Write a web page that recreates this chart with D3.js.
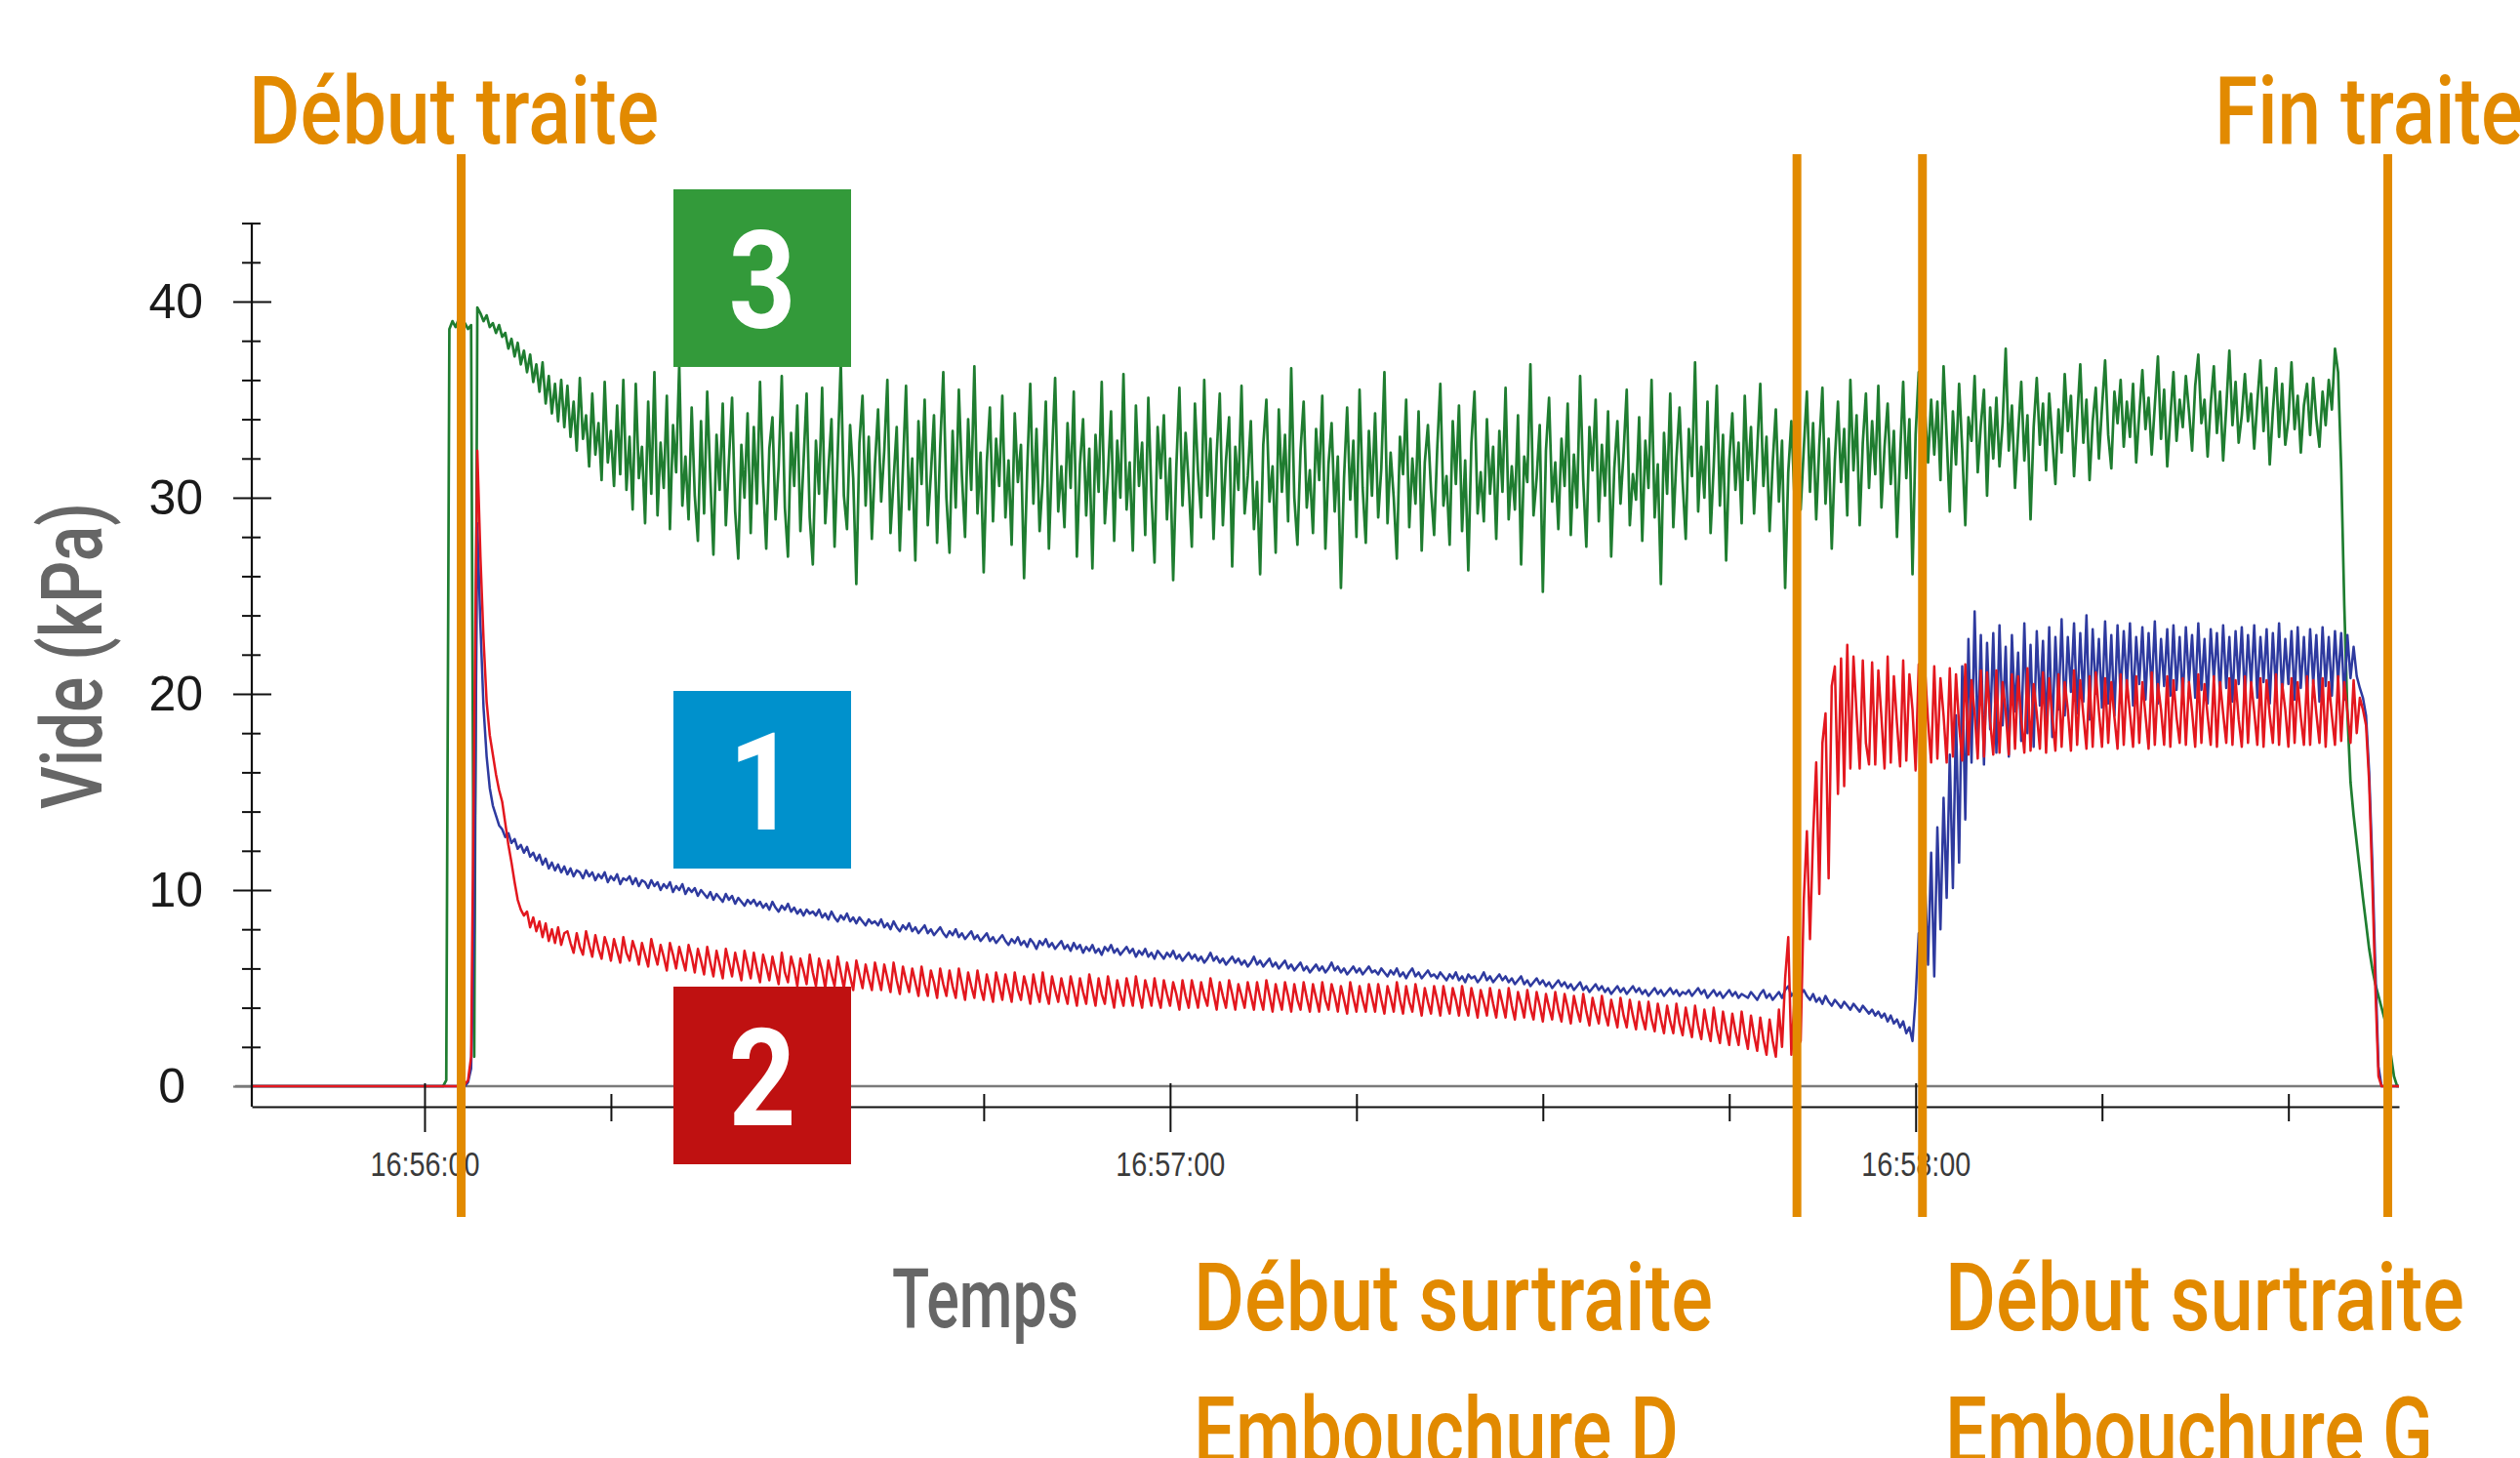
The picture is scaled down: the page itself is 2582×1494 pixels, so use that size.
<!DOCTYPE html>
<html><head><meta charset="utf-8">
<script src="https://cdn.jsdelivr.net/npm/d3@7"></script>
<style>html,body{margin:0;padding:0;background:#fff;}svg{display:block;}</style>
</head><body>
<svg id="chart" width="2582" height="1494"></svg>
<script>
// ---------- DATA ----------
// time in seconds after 16:56:00
const axisStartSec = -13.9, axisEndSec = 158.9;
const sampleStart = 1.5, sampleStep = 0.25;
const baselineValue = 0;
const yMajorTicks = [0, 10, 20, 30, 40];
const yMinorTicks = [2, 4, 6, 8, 12, 14, 16, 18, 22, 24, 26, 28, 32, 34, 36, 38, 42, 44];
const xTickLabels = ["16:56:00", "16:57:00", "16:58:00"];
const markerSeconds = [2.95, 110.45, 120.55, 158.0];
const annotationLabels = ["Début traite", "Fin traite", "Début surtraite", "Embouchure D", "Début surtraite", "Embouchure G"];
const axisTitles = ["Vide (kPa)", "Temps"];
const boxLabels = ["3", "1", "2"];

// Series 3 (green) — vide
const greenValues = [
0,0.3,38.6,39.0,38.7,39.1,38.8,38.9,38.6,38.8,1.5,39.7,39.4,39.0,39.3,38.7,38.9,38.4,38.8,38.2,
38.4,37.6,38.1,37.2,37.9,36.8,37.5,36.4,37.3,35.9,36.8,35.4,36.9,34.8,36.2,34.3,35.8,33.9,36.0,33.6,
35.7,33.1,34.9,32.4,36.1,33.0,34.2,31.6,35.3,32.2,33.8,30.9,35.9,31.8,33.4,30.6,34.7,31.2,36.0,30.4,
33.1,29.4,35.8,31.0,32.6,28.7,34.9,30.2,36.4,29.1,32.8,30.5,35.2,28.4,33.7,31.3,36.8,29.6,32.1,28.9,
34.6,30.1,27.8,33.9,29.2,35.4,31.0,27.1,33.2,30.4,34.8,28.6,31.9,35.1,29.3,26.9,32.7,30.0,34.3,28.2,
33.6,29.7,35.9,30.8,27.4,32.5,34.1,28.9,31.6,36.2,29.5,27.0,33.3,30.6,34.7,28.3,31.8,35.3,29.0,26.6,
32.9,30.2,35.6,28.7,31.4,34.0,27.5,32.2,36.9,30.1,28.4,33.7,31.0,25.6,32.8,35.2,29.6,33.1,27.9,31.7,
34.5,29.8,32.4,36.0,28.2,30.9,33.6,27.3,31.5,35.7,29.4,32.0,26.8,33.9,30.7,35.0,28.6,31.2,34.2,27.7,
32.6,36.4,30.0,27.2,33.4,29.5,35.5,31.1,28.0,34.0,30.4,36.7,29.2,32.3,26.2,31.8,34.6,28.8,33.0,30.6,
35.2,29.0,31.9,27.6,34.3,30.8,32.7,25.9,31.4,35.8,29.7,33.5,28.3,30.9,34.9,27.4,32.1,36.1,29.3,31.6,
28.5,33.8,30.5,35.4,27.0,31.7,34.0,29.1,32.5,26.4,33.2,30.3,35.9,28.7,31.2,34.4,27.8,32.9,30.0,36.3,
29.4,31.8,27.3,34.7,30.6,32.8,28.1,35.1,30.2,26.7,33.6,31.0,34.2,28.9,32.0,25.8,31.5,35.6,29.6,33.3,
30.7,27.5,34.8,31.3,29.0,36.0,30.1,33.0,27.9,32.2,35.3,28.6,31.9,34.1,26.5,32.6,30.4,35.7,29.2,31.1,
33.9,28.4,30.8,26.1,32.7,35.0,29.8,31.6,27.2,34.5,30.3,33.2,28.8,36.6,30.0,27.6,32.4,34.9,29.5,31.4,
28.2,33.5,30.9,35.2,27.4,31.7,33.8,29.3,32.1,25.4,31.0,34.6,29.9,32.9,28.0,35.5,30.5,27.7,33.4,30.1,
34.3,29.0,31.5,36.4,28.7,32.3,30.0,26.9,33.1,31.2,35.0,28.5,32.0,29.7,34.4,27.3,31.8,33.7,30.4,28.1,
32.5,35.8,29.6,31.1,27.6,33.9,30.7,34.7,28.3,31.9,26.3,32.8,35.4,29.2,31.3,28.8,34.0,30.2,32.6,27.9,
33.4,30.3,35.6,28.9,31.6,29.4,34.2,26.6,32.1,30.8,36.8,29.1,31.0,33.7,25.2,32.4,35.1,29.8,31.8,28.4,
33.0,30.6,34.8,28.1,32.2,29.5,36.2,30.9,27.5,33.6,31.4,35.0,28.8,32.7,30.1,34.4,27.0,31.5,33.9,29.7,
32.3,35.5,28.6,31.2,29.9,34.1,27.8,32.9,30.5,36.0,29.0,31.7,25.6,33.3,30.2,35.3,28.5,32.0,34.6,30.8,
27.9,33.5,31.1,36.9,29.3,32.6,30.0,34.9,28.2,31.6,35.7,29.6,33.2,26.8,31.9,34.3,30.4,32.8,28.7,35.2,
30.9,33.6,29.2,32.4,35.8,30.6,33.1,28.3,31.8,34.5,29.8,32.9,25.4,31.3,33.9,30.0,34.7,29.4,32.5,35.4,
30.3,33.8,28.9,32.7,35.6,29.7,33.0,27.4,31.9,34.9,30.8,33.5,29.1,36.0,31.4,34.2,28.6,32.8,35.3,30.5,
33.9,31.2,35.7,29.5,32.6,34.8,30.7,33.4,28.0,32.1,35.9,31.0,34.0,26.1,33.2,36.4,30.4,34.5,31.8,35.0,
32.2,34.9,30.9,36.7,33.1,29.3,34.4,31.7,35.8,32.5,28.6,34.1,32.9,36.2,31.3,33.7,35.5,30.1,34.6,32.0,
35.1,31.6,33.8,37.6,32.4,34.7,30.5,33.3,35.9,31.9,34.2,28.9,33.6,36.1,32.7,34.8,31.4,35.3,33.0,30.7,
34.5,32.3,36.3,33.4,35.2,31.1,34.0,36.8,32.8,35.0,30.9,33.9,35.6,32.0,34.6,37.0,33.2,31.5,35.4,33.8,
36.0,32.6,34.9,33.1,35.8,31.8,34.3,36.5,33.5,35.1,32.2,34.7,37.2,33.0,35.5,31.6,34.1,36.4,32.9,35.0,
33.6,36.2,34.4,32.4,35.7,37.3,33.8,35.0,32.1,34.8,36.7,33.3,35.4,31.9,34.6,37.5,33.7,35.9,32.8,34.2,
36.3,33.9,35.3,32.5,34.9,37.0,33.4,35.6,31.7,34.4,36.6,33.1,35.8,32.7,34.0,36.9,33.5,35.2,32.3,34.7,
35.8,33.2,36.1,34.0,32.6,35.4,33.7,36.0,34.5,37.6,36.4,31.5,24.5,19.0,15.5,13.8,12.4,11.0,9.6,8.3,
7.0,6.0,5.2,4.6,4.0,3.4,2.6,1.6,0.5,0
];

// Series 1 (blue)
const blueValues = [
0,0,0,0,0,0,0,0,0.2,0.9,8.0,28.7,23.5,19.3,16.8,15.2,14.3,13.8,13.3,13.1,
12.7,12.9,12.4,12.6,12.1,12.3,11.9,12.2,11.7,11.9,11.5,11.8,11.3,11.6,11.1,11.4,11.0,11.3,10.9,11.2,
10.8,11.1,10.7,11.0,10.9,10.6,11.0,10.7,10.9,10.5,10.8,10.6,10.9,10.4,10.7,10.5,10.8,10.3,10.6,10.5,
10.7,10.3,10.6,10.2,10.5,10.4,10.1,10.5,10.2,10.4,10.0,10.3,10.1,10.4,9.9,10.2,10.0,10.3,9.8,10.1,
9.9,10.1,9.7,10.0,9.8,9.6,9.9,9.5,9.8,9.6,9.4,9.8,9.5,9.7,9.3,9.6,9.4,9.2,9.5,9.3,
9.5,9.2,9.4,9.1,9.3,9.0,9.4,9.1,8.9,9.2,9.0,9.3,8.9,9.1,8.8,9.0,8.7,9.0,8.8,8.9,
8.7,9.0,8.6,8.8,8.5,8.9,8.6,8.4,8.7,8.5,8.8,8.4,8.6,8.3,8.6,8.4,8.2,8.5,8.3,8.4,
8.2,8.5,8.1,8.3,8.0,8.4,8.1,7.9,8.2,8.0,8.3,7.9,8.1,7.8,8.0,8.2,7.8,8.0,7.7,7.9,
8.1,7.8,7.6,7.9,7.7,8.0,7.6,7.8,7.5,7.7,7.9,7.5,7.7,7.4,7.6,7.8,7.4,7.6,7.3,7.5,
7.7,7.4,7.2,7.5,7.3,7.6,7.2,7.4,7.1,7.5,7.3,7.0,7.4,7.2,7.5,7.1,7.3,7.0,7.2,7.4,
7.0,7.2,6.9,7.3,7.0,7.2,6.8,7.1,6.9,7.2,6.8,7.0,6.7,7.1,6.9,7.2,6.8,7.0,6.7,6.9,
7.1,6.8,7.0,6.6,6.9,6.7,7.0,6.6,6.8,6.5,6.9,6.7,6.5,6.8,6.6,6.9,6.5,6.7,6.4,6.6,
6.8,6.5,6.7,6.4,6.6,6.3,6.5,6.8,6.4,6.6,6.3,6.5,6.2,6.4,6.6,6.3,6.5,6.2,6.4,6.1,
6.3,6.6,6.2,6.4,6.1,6.3,6.5,6.1,6.3,6.0,6.2,6.4,6.0,6.2,5.9,6.1,6.3,5.9,6.1,5.8,
6.0,6.2,5.9,6.1,5.8,6.0,6.3,5.9,6.1,5.8,6.0,5.7,5.9,6.1,5.8,6.0,5.7,5.9,6.1,5.8,
5.9,5.7,6.0,5.8,5.6,5.9,5.7,6.0,5.6,5.8,5.5,5.8,6.0,5.6,5.8,5.5,5.7,5.9,5.6,5.7,
5.5,5.8,5.6,5.4,5.7,5.5,5.8,5.4,5.6,5.3,5.7,5.5,5.6,5.3,5.5,5.8,5.4,5.6,5.3,5.5,
5.7,5.4,5.6,5.3,5.5,5.2,5.4,5.6,5.2,5.4,5.1,5.3,5.5,5.2,5.4,5.1,5.3,5.0,5.2,5.4,
5.1,5.3,5.0,5.2,4.9,5.1,5.3,4.9,5.1,4.8,5.0,5.2,4.9,5.1,4.8,5.0,4.7,4.9,5.1,4.8,
5.0,4.7,4.9,5.1,4.8,5.0,4.7,4.9,4.6,4.8,5.0,4.7,4.9,4.6,4.8,5.0,4.7,4.9,4.6,4.8,
4.7,4.9,4.6,4.8,5.0,4.7,4.9,4.5,4.7,4.9,4.6,4.8,4.5,4.7,4.9,4.6,4.8,4.5,4.7,4.6,
4.5,4.8,4.6,4.4,4.7,4.9,4.5,4.7,4.4,4.6,4.8,4.5,4.9,5.1,4.6,4.8,5.0,4.7,4.9,4.6,
4.4,4.7,4.3,4.5,4.2,4.6,4.3,4.1,4.4,4.2,4.0,4.3,4.1,3.9,4.2,4.0,3.8,4.1,3.9,3.7,
3.9,3.6,3.8,3.5,3.7,3.3,3.6,3.2,3.4,3.0,3.3,2.7,3.0,2.3,4.5,7.8,5.0,10.5,6.2,11.9,
5.6,13.2,8.0,14.7,9.6,16.9,10.1,18.9,11.4,21.4,13.6,22.8,16.5,24.2,17.5,23.0,16.4,22.6,18.2,23.1,
17.0,23.5,18.4,22.4,16.8,23.0,19.1,22.1,17.6,23.6,18.0,22.5,17.3,23.2,19.4,22.7,18.1,23.4,17.8,22.9,
19.2,23.8,18.9,22.9,20.1,23.6,19.0,23.1,19.6,24.0,18.7,23.3,20.0,22.8,19.3,23.7,19.5,23.0,18.9,23.5,
19.8,23.2,20.3,23.6,19.4,22.9,20.5,23.4,19.7,23.1,20.1,23.7,19.5,22.8,20.4,23.3,19.9,23.5,20.2,22.9,
19.6,23.4,20.6,23.0,19.8,23.6,20.2,22.8,19.5,23.3,20.7,23.1,19.9,23.5,20.3,22.9,19.6,23.2,20.5,23.4,
19.7,23.0,20.4,23.5,19.8,22.9,20.6,23.3,19.5,23.1,20.2,23.6,19.9,22.8,20.5,23.2,19.7,23.4,20.3,22.9,
19.8,23.3,20.5,23.0,19.6,23.4,20.4,22.9,19.9,23.2,20.6,23.1,19.7,23.0,20.8,22.4,20.9,20.3,19.8,18.9,
16.0,11.5,6.0,1.0,0,0,0,0,0,0
];

// Series 2 (red)
const redValues = [
0,0,0,0,0,0,0,0.1,0.3,1.5,18.0,32.4,27.0,22.8,19.6,17.9,16.9,15.9,15.1,14.5,
13.4,12.3,11.4,10.4,9.5,9.0,8.7,8.9,8.1,8.6,7.9,8.4,7.6,8.3,7.4,8.0,7.3,8.1,7.2,7.8,
7.9,7.3,6.8,7.8,7.1,6.7,7.9,7.2,6.6,7.7,7.0,6.5,7.6,7.1,6.4,7.5,6.9,6.3,7.6,6.8,
6.4,7.4,6.9,6.2,7.3,6.7,6.1,7.5,6.8,6.2,7.2,6.6,5.9,7.3,6.7,6.0,7.1,6.5,5.9,7.2,
6.6,5.8,7.0,6.4,5.7,7.1,6.3,5.6,6.9,6.2,5.5,7.0,6.3,5.6,6.8,6.1,5.4,6.9,6.2,5.5,
6.8,6.0,5.3,6.7,6.1,5.4,6.6,5.9,5.2,6.8,5.8,5.3,6.6,6.0,5.1,6.5,5.9,5.2,6.7,5.8,
5.1,6.5,5.9,5.0,6.4,5.7,5.1,6.6,5.8,5.0,6.3,5.6,4.9,6.4,5.7,5.0,6.2,5.5,4.9,6.3,
5.6,4.9,6.2,5.5,4.8,6.3,5.4,4.7,6.1,5.4,4.8,6.0,5.3,4.6,6.1,5.2,4.6,5.9,5.3,4.5,
6.0,5.2,4.6,5.9,5.1,4.5,6.0,5.2,4.4,5.8,5.1,4.5,5.9,5.0,4.4,5.7,5.0,4.3,5.8,5.1,
4.4,5.7,5.0,4.3,5.8,4.9,4.4,5.6,5.0,4.2,5.7,4.9,4.3,5.8,4.8,4.2,5.6,4.9,4.3,5.5,
4.8,4.2,5.6,4.9,4.1,5.5,4.8,4.2,5.7,4.9,4.1,5.5,4.7,4.2,5.6,4.8,4.0,5.4,4.7,4.1,
5.5,4.8,4.1,5.6,4.7,4.0,5.4,4.8,4.1,5.5,4.6,4.0,5.4,4.7,4.1,5.3,4.7,3.9,5.4,4.6,
4.0,5.4,4.7,4.0,5.3,4.6,4.1,5.5,4.7,3.9,5.3,4.6,4.0,5.4,4.7,3.9,5.2,4.6,4.0,5.3,
4.6,3.9,5.3,4.5,3.9,5.4,4.6,3.8,5.2,4.5,3.9,5.3,4.6,3.8,5.2,4.4,3.9,5.3,4.5,3.8,
5.2,4.5,3.8,5.3,4.4,3.9,5.2,4.6,3.8,5.1,4.4,3.7,5.3,4.5,3.8,5.1,4.4,3.8,5.2,4.5,
3.8,5.2,4.4,3.7,5.1,4.5,3.8,5.3,4.4,3.7,5.1,4.3,3.8,5.2,4.4,3.6,5.0,4.3,3.7,5.1,
4.4,3.6,5.1,4.3,3.7,5.0,4.4,3.6,5.1,4.2,3.6,5.0,4.3,3.5,4.9,4.3,3.6,5.0,4.2,3.5,
4.9,4.2,3.5,5.0,4.1,3.4,4.8,4.2,3.5,4.9,4.0,3.4,4.8,4.1,3.3,4.7,4.0,3.4,4.8,3.9,
3.3,4.7,4.0,3.2,4.6,3.9,3.3,4.7,3.8,3.1,4.5,3.8,3.2,4.6,3.7,3.1,4.4,3.7,3.0,4.5,
3.6,3.0,4.4,3.6,2.9,4.3,3.5,2.9,4.3,3.4,2.8,4.2,3.4,2.7,4.1,3.3,2.7,4.2,3.2,2.6,
4.0,3.2,2.5,4.1,3.1,2.4,3.9,3.0,2.3,4.0,2.9,2.2,3.8,2.9,2.1,3.7,2.8,2.1,3.8,2.7,
1.9,3.6,2.6,1.8,3.5,2.4,1.6,3.4,2.3,1.5,3.9,2.0,5.5,7.6,1.6,4.5,2.0,2.3,9.5,13.0,
7.5,12.8,16.5,9.8,17.5,19.0,10.6,20.4,21.4,14.9,21.8,15.3,22.5,16.2,21.9,19.0,16.2,21.7,17.5,16.4,
21.6,16.4,21.2,18.8,16.2,21.9,16.5,20.9,18.5,16.3,21.7,16.6,21.0,19.2,16.1,21.5,16.4,21.3,18.6,16.5,
21.4,16.7,20.8,18.9,16.5,21.3,16.8,21.0,18.4,16.6,21.5,16.9,20.7,19.0,16.7,21.2,16.8,21.1,18.6,16.9,
21.2,17.0,20.6,19.1,16.9,21.0,17.2,20.9,18.7,17.0,21.3,17.1,20.5,19.0,17.2,21.1,17.0,20.8,18.8,17.1,
21.0,17.3,20.6,19.2,17.1,21.2,17.4,20.7,18.9,17.2,20.9,17.3,21.1,19.1,17.3,20.8,17.5,20.6,18.8,17.2,
21.0,17.4,20.7,19.0,17.3,20.9,17.5,20.6,18.9,17.2,21.1,17.4,20.5,19.2,17.4,20.9,17.3,20.7,18.8,17.5,
20.8,17.4,20.6,19.1,17.3,21.0,17.5,20.5,18.9,17.4,20.9,17.3,20.6,19.0,17.5,20.8,17.4,20.7,18.7,17.3,
20.9,17.5,20.6,19.1,17.4,20.8,17.3,20.7,18.9,17.5,21.0,17.4,20.5,19.2,17.3,20.8,17.5,20.6,18.8,17.4,
20.9,17.4,20.7,19.0,17.5,20.8,17.3,20.6,18.9,17.4,20.9,17.6,20.6,19.1,17.5,20.7,18.0,19.8,19.2,18.4,
15.5,10.5,5.0,0.5,0,0,0,0,0,0
];

// ---------- DRAWING ----------
const ORANGE = "#E28A00";
const GRAY_TXT = "#666666";
const svg = d3.select("#chart");
const base = new Date(2000, 0, 1, 16, 56, 0);
const toDate = s => new Date(base.getTime() + s * 1000);

const x = d3.scaleTime().domain([toDate(axisStartSec), toDate(axisEndSec)]).range([258, 2458]);
const y = d3.scaleLinear().domain([0, 44]).range([1113, 228.6]);
const X_AXIS_Y = 1134;

// zero line
svg.append("line").attr("x1", 241).attr("x2", x.range()[1])
  .attr("y1", y(baselineValue)).attr("y2", y(baselineValue))
  .attr("stroke", "#7a7a7a").attr("stroke-width", 2.5);

// series
function seriesPoints(vals) {
  return [[axisStartSec, baselineValue]]
    .concat(vals.map((v, i) => [sampleStart + i * sampleStep, v]))
    .concat([[axisEndSec, baselineValue]]);
}
const line = d3.line().x(d => x(toDate(d[0]))).y(d => y(d[1]));
const seriesList = [
  { vals: greenValues, color: "#1F7D30", w: 2.7 },
  { vals: blueValues, color: "#2E3A9F", w: 2.5 },
  { vals: redValues, color: "#E3171E", w: 2.5 }
];
svg.append("g").selectAll("path").data(seriesList).join("path")
  .attr("d", d => line(seriesPoints(d.vals)))
  .attr("fill", "none").attr("stroke", d => d.color)
  .attr("stroke-width", d => d.w).attr("stroke-linejoin", "round");

// X axis
const fmt = d3.timeFormat("%H:%M:%S");
const xAxis = d3.axisBottom(x).ticks(d3.timeSecond.every(15)).tickSizeOuter(0)
  .tickFormat(d => {
    const s = fmt(d);
    return xTickLabels.includes(s) ? s : "";
  });
const gx = svg.append("g").attr("transform", `translate(0,${X_AXIS_Y})`).call(xAxis);
gx.select(".domain").attr("stroke", "#111").attr("stroke-width", 2.2);
gx.selectAll(".tick line").attr("stroke", "#111").attr("stroke-width", 2)
  .each(function (d) {
    const major = d.getSeconds() === 0;
    d3.select(this).attr("y1", major ? -24 : -13).attr("y2", major ? 26 : 15);
  });
gx.selectAll(".tick text")
  .attr("y", 71).attr("dy", 0)
  .attr("font-family", "'Liberation Sans', Arial, sans-serif")
  .attr("font-size", 35).attr("fill", "#3a3a3a")
  .each(function () {
    const t = d3.select(this);
    if (t.text()) t.attr("textLength", 112).attr("lengthAdjust", "spacingAndGlyphs");
  });

// Y axis
const gyMinor = svg.append("g").attr("transform", "translate(258,0)")
  .call(d3.axisLeft(y).tickValues(yMinorTicks).tickFormat("").tickSize(10).tickSizeOuter(0));
gyMinor.select(".domain").remove();
gyMinor.selectAll(".tick line").attr("x1", 9).attr("stroke", "#111").attr("stroke-width", 2);

const gyMajor = svg.append("g").attr("transform", "translate(258,0)")
  .call(d3.axisLeft(y).tickValues(yMajorTicks).tickFormat(d3.format("d")).tickSize(19).tickPadding(31).tickSizeOuter(0));
gyMajor.select(".domain").remove();
gyMajor.selectAll(".tick line").attr("x1", d => d === 0 ? 0 : 20).attr("stroke", d => d === 0 ? "#7a7a7a" : "#111").attr("stroke-width", 2.2);
gyMajor.selectAll(".tick text")
  .attr("font-family", "'Liberation Sans', Arial, sans-serif")
  .attr("font-size", 50).attr("fill", "#1a1a1a")
  .attr("x", d => d === 0 ? -68 : -50);

svg.append("line").attr("x1", 258).attr("x2", 258)
  .attr("y1", y.range()[1]).attr("y2", X_AXIS_Y)
  .attr("stroke", "#111").attr("stroke-width", 2.2);

// numbered boxes
const boxes = [
  { label: boxLabels[0], fill: "#339A3A", y: 194 },
  { label: boxLabels[1], fill: "#0091CC", y: 708 },
  { label: boxLabels[2], fill: "#BF1111", y: 1011 }
];
const gb = svg.append("g");
gb.selectAll("rect").data(boxes).join("rect")
  .attr("x", 690).attr("y", d => d.y).attr("width", 182).attr("height", 182).attr("fill", d => d.fill);
gb.selectAll("text").data(boxes).join("text")
  .attr("transform", d => `translate(781,${d.y + 142}) scale(0.86,1)`)
  .attr("text-anchor", "middle")
  .attr("font-family", "Roboto, 'Open Sans', sans-serif").attr("font-weight", 700)
  .attr("font-size", 140).attr("fill", "#fff")
  .text(d => d.label);

// orange marker lines
svg.append("g").selectAll("line").data(markerSeconds).join("line")
  .attr("x1", d => x(toDate(d))).attr("x2", d => x(toDate(d)))
  .attr("y1", 158).attr("y2", 1247)
  .attr("stroke", ORANGE).attr("stroke-width", 9);

// annotation texts
const annPos = [
  { x: 255, y: 147, len: 420 },
  { x: 2269, y: 147, len: 316 },
  { x: 1223, y: 1363, len: 532 },
  { x: 1223, y: 1500, len: 497 },
  { x: 1993, y: 1363, len: 532 },
  { x: 1993, y: 1500, len: 500 }
];
svg.append("g").selectAll("text").data(annotationLabels).join("text")
  .attr("x", (d, i) => annPos[i].x).attr("y", (d, i) => annPos[i].y)
  .attr("textLength", (d, i) => annPos[i].len).attr("lengthAdjust", "spacingAndGlyphs")
  .attr("font-family", "Roboto, 'Open Sans', sans-serif").attr("font-weight", 500)
  .attr("font-size", 97).attr("fill", ORANGE)
  .text(d => d);

// axis titles
svg.append("text")
  .attr("transform", "translate(104,672) rotate(-90)")
  .attr("text-anchor", "middle")
  .attr("textLength", 314).attr("lengthAdjust", "spacingAndGlyphs")
  .attr("font-family", "Roboto, 'Open Sans', sans-serif").attr("font-weight", 500)
  .attr("font-size", 87).attr("fill", GRAY_TXT)
  .text(axisTitles[0]);
svg.append("text")
  .attr("x", 914).attr("y", 1360)
  .attr("textLength", 191).attr("lengthAdjust", "spacingAndGlyphs")
  .attr("font-family", "Roboto, 'Open Sans', sans-serif").attr("font-weight", 500)
  .attr("font-size", 86).attr("fill", GRAY_TXT)
  .text(axisTitles[1]);
</script>
</body></html>
